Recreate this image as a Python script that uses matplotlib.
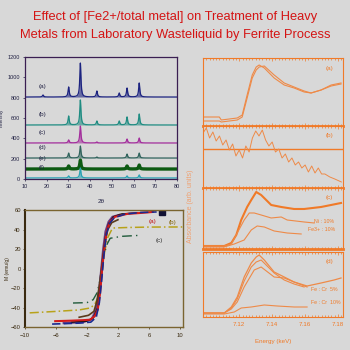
"""
Graphical abstract: XRD patterns, magnetization loops and Fe K-edge XANES
for ferrite-process sludge. Rebuilt from a 350x350 picture.
"""

import numpy as np
import matplotlib
matplotlib.use("Agg")
import matplotlib.pyplot as plt
from matplotlib.ticker import MultipleLocator

BG = "#d8d8d8"
ORANGE = "#f07a28"
LINE_OR = "#ee8a48"

# ── XRD (left top) ──────────────────────────────────────────────
xrd_labels = ["(a)", "(b)", "(c)", "(d)", "(e)", "(f)"]
xrd_offsets = [806, 531, 354, 206, 98, 10]
xrd_peaks = [18.3, 30.1, 35.5, 43.1, 53.4, 57.0, 62.6]
xrd_heights = [
    [20, 98, 334, 59, 39, 88, 138],
    [0, 88, 246, 39, 39, 79, 108],
    [0, 30, 167, 10, 0, 39, 49],
    [0, 49, 118, 10, 0, 39, 49],
    [0, 30, 88, 0, 0, 30, 39],
    [0, 20, 98, 0, 0, 20, 30],
]
xrd_colors = ["#1c2380", "#1f8c82", "#a32e9c", "#2f625c", "#0d5a12", "#2aa2b4"]
xrd_xticks = [10, 20, 30, 40, 50, 60, 70, 80]
xrd_yticks = [0, 200, 400, 600, 800, 1000, 1200]

# ── Magnetization loops (left bottom) ───────────────────────────
loop_red_h = [-6.1, -4, -2.5, -1.6, -1.0, -0.6, -0.3, 0.0, 0.3, 0.6, 1.0, 1.6, 3.2, 5.0, 6.5]
loop_red_m = [-54, -53.5, -53, -52.5, -49, -42, -25, 3, 24, 40, 48, 53, 56, 57, 58]
loop_navy_h = [-6.5, -3, -1.5, -0.8, -0.4, -0.1, 0.2, 0.5, 0.9, 1.5, 3, 5, 7]
loop_navy_m = [-57, -56, -55, -50, -35, -12, 15, 35, 46, 52, 56, 57.5, 58]
loop_black_h = [-4, -2, -1.2, -0.6, -0.2, 0.1, 0.4, 0.8, 1.4, 2.5, 4.5]
loop_black_m = [-55, -54, -51, -40, -15, 12, 33, 46, 53, 56, 57]
loop_purple_h = [-5, -2.5, -1.4, -0.9, -0.5, -0.2, 0.1, 0.4, 0.8, 1.3, 2.2]
loop_purple_m = [-56, -55, -52, -44, -28, -5, 20, 38, 48, 53, 55]
loop_brown_h = [-3, -1.8, -1.1, -0.7, -0.3, 0, 0.3, 0.7, 1.2, 2]
loop_brown_m = [-50, -48, -44, -33, -12, 8, 27, 40, 47, 50]
loop_yellow_h = [-9.4, -6, -3, -1.6, -1.0, -0.6, -0.3, 0, 0.3, 0.7, 1.3, 3, 6, 10.3]
loop_yellow_m = [-45.5, -44, -42.5, -40.5, -37, -30, -18, 0, 18, 32, 41.5, 42, 42.5, 42.6]
loop_green_h = [-3.8, -2.0, -1.2, -0.7, -0.4, -0.1, 0.2, 0.6, 1.0, 2.5, 4.8]
loop_green_m = [-35.4, -35, -32, -25, -15, 0, 14, 25, 31, 33, 34]
loop_xticks = [-10, -6, -2, 2, 6, 10]
loop_yticks = [-60, -40, -20, 0, 20, 40, 60]

# ── XANES (right) ───────────────────────────────────────────────
xa_e1 = [7.0982, 7.1079, 7.1091, 7.1188, 7.1218, 7.1248, 7.1279, 7.1303, 7.1321,
         7.1352, 7.1412, 7.1473, 7.1533, 7.1594, 7.1636, 7.1697, 7.1758, 7.1818]
xa_a1 = [9, 9, 6, 8, 11, 31, 51, 59, 61, 58, 48, 41, 38, 34, 33, 36, 41, 43]
xa_a2 = [5, 5, 4, 6, 9, 28, 48, 56, 59, 60, 51, 43, 39, 35, 33, 36, 40, 42]

xa_e2 = [7.098, 7.100, 7.102, 7.104, 7.106, 7.108, 7.110, 7.112, 7.114, 7.116,
         7.118, 7.120, 7.122, 7.124, 7.126, 7.128, 7.130, 7.132, 7.134, 7.136,
         7.138, 7.140, 7.142, 7.144, 7.146, 7.148, 7.150, 7.152, 7.154, 7.156,
         7.158, 7.160, 7.162, 7.164, 7.166, 7.168, 7.170, 7.172, 7.175, 7.178, 7.182]
xa_b = [55, 60, 50, 56, 47, 52, 43, 48, 38, 44, 32, 38, 30, 42, 36, 50, 57, 52,
        58, 48, 42, 46, 36, 39, 30, 34, 26, 30, 23, 26, 20, 23, 16, 22, 15, 20,
        14, 14, 11, 9, 6]
xa_b_level = 39

xa_c1_e = [7.0982, 7.1109, 7.1152, 7.1182, 7.1212, 7.1248, 7.1273, 7.1303, 7.1333,
           7.1394, 7.1455, 7.1533, 7.1594, 7.1697, 7.1818]
xa_c1 = [3, 3, 6, 14, 29, 42, 49, 57, 54, 44, 42, 40, 40, 42, 46]
xa_c2_e = [7.0982, 7.1109, 7.1152, 7.1188, 7.1230, 7.1261, 7.1291, 7.1333, 7.1394,
           7.1455, 7.1491, 7.1594, 7.1655]
xa_c2 = [3, 3, 5, 16, 29, 36, 36, 34, 31, 32, 29, 27, 26]
xa_c3_e = [7.0982, 7.1109, 7.1170, 7.1230, 7.1273, 7.1309, 7.1352, 7.1412, 7.1491, 7.1576]
xa_c3 = [2, 2, 5, 9, 19, 23, 22, 18, 16, 15]

xa_d1_e = [7.0982, 7.1109, 7.1152, 7.1188, 7.1230, 7.1273, 7.1303, 7.1321, 7.1352,
           7.1412, 7.1473, 7.1533, 7.1612, 7.1697, 7.1776, 7.1818]
xa_d1 = [4, 4, 10, 20, 40, 54, 60, 62, 57, 45, 40, 35, 31, 34, 37, 39]
xa_d2_e = [7.0982, 7.1109, 7.1152, 7.1188, 7.1230, 7.1273, 7.1303, 7.1333, 7.1412,
           7.1473, 7.1533, 7.1594]
xa_d2 = [4, 4, 9, 18, 36, 50, 55, 57, 44, 37, 33, 30]
xa_d3_e = [7.0982, 7.1109, 7.1152, 7.1188, 7.1230, 7.1291, 7.1333, 7.1412, 7.1473,
           7.1533, 7.1612]
xa_d3 = [4, 4, 8, 15, 30, 47, 50, 40, 39, 35, 30]
xa_d4_e = [7.0982, 7.1109, 7.1170, 7.1212, 7.1273, 7.1352, 7.1430, 7.1533, 7.1612]
xa_d4 = [3, 3, 5, 9, 10, 12, 11, 10, 10]

xa_xticks = [7.12, 7.14, 7.16, 7.18]
xa_labels = ["(a)", "(b)", "(c)", "(d)"]

fig = plt.figure(figsize=(3.5, 3.5), dpi=100, facecolor=BG)
plt.rcParams["font.family"] = ["Liberation Sans", "DejaVu Sans"]

fig.text(0.5, 0.951, "Effect of [Fe2+/total metal] on Treatment of Heavy",
         ha="center", va="center", color="#d41414", fontsize=9.3)
fig.text(0.5, 0.900, "Metals from Laboratory Wasteliquid by Ferrite Process",
         ha="center", va="center", color="#d41414", fontsize=9.3)

# XRD panel
ax = fig.add_axes([0.0714, 0.4886, 0.4343, 0.3486], facecolor=BG)
tt = np.linspace(10, 80, 1401)
for lab, off, hts, col in zip(xrd_labels, xrd_offsets, xrd_heights, xrd_colors):
    y = np.full_like(tt, float(off))
    for p, h in zip(xrd_peaks, hts):
        y += h / (1 + ((tt - p) / 0.32) ** 2)
    lw = 2.4 if lab == "(e)" else 0.9
    ax.plot(tt, y, color=col, lw=lw)
    ax.fill_between(tt, off, y, color=col, alpha=0.6, lw=0)
    ax.text(16.5, off + 75, lab, fontsize=4.5, color="#222244", ha="left", va="bottom")
ax.set_xlim(10, 80)
ax.set_ylim(0, 1200)
ax.set_xticks(xrd_xticks)
ax.set_yticks(xrd_yticks)
ax.tick_params(labelsize=4, colors="#222244", length=1.5, width=0.5, pad=2)
for s in ax.spines.values():
    s.set_color("#3a1f52")
    s.set_linewidth(0.9)
ax.set_xlabel("2θ", fontsize=4.5, color="#222244", labelpad=7)
ax.set_ylabel("Intensity", fontsize=3.5, color="#222244", labelpad=3)

# Magnetization loops
bx = fig.add_axes([0.0714, 0.0657, 0.4514, 0.3343], facecolor=BG)
bx.plot(loop_yellow_h, loop_yellow_m, color="#b8a21a", lw=1.1, ls=(0, (6, 2, 1, 2)))
bx.plot(loop_green_h, loop_green_m, color="#1f5a3a", lw=1.0, ls=(0, (7, 3, 1, 3)))
bx.plot(loop_purple_h, loop_purple_m, color="#6a3d86", lw=1.6)
bx.plot(loop_brown_h, loop_brown_m, color="#5a3a1a", lw=1.2)
bx.plot(loop_black_h, loop_black_m, color="#111111", lw=1.0)
bx.plot(loop_red_h, loop_red_m, color="#d41a1a", lw=1.5)
bx.plot(loop_navy_h, loop_navy_m, color="#1a2a90", lw=1.2, ls=(0, (5, 2)))
bx.plot([7.7], [58], marker="s", ms=4, color="#111133")
bx.text(6.4, 47.7, "(a)", fontsize=4.5, color="#c01010", ha="center", va="center")
bx.text(9.0, 47, "(b)", fontsize=4.5, color="#806000", ha="center", va="center")
bx.text(7.4, 29, "(c)", fontsize=4.5, color="#333333", ha="center", va="center")
bx.set_xlim(-10, 10.4)
bx.set_ylim(-60, 60)
bx.set_xticks(loop_xticks)
bx.set_yticks(loop_yticks)
bx.tick_params(labelsize=4.2, colors="#3a2a10", length=1.5, width=0.5, pad=1.5)
bx.tick_params(axis="x", pad=3)
for s in bx.spines.values():
    s.set_color("#7a6430")
    s.set_linewidth(1.0)
bx.spines["left"].set_color("#3a2a10")
bx.spines["left"].set_linewidth(1.5)
bx.set_ylabel("M (emu/g)", fontsize=3.6, color="#3a2a10", labelpad=1)

# XANES panels
rects = [
    [0.58, 0.6400, 0.40, 0.1943],
    [0.58, 0.4629, 0.40, 0.1771],
    [0.58, 0.2886, 0.40, 0.1743],
    [0.58, 0.0943, 0.40, 0.1857],
]
ylims = [68, 62, 61, 65]
axes = []
for r, top, lab in zip(rects, ylims, xa_labels):
    a = fig.add_axes(r, facecolor=BG)
    a.set_xlim(7.098, 7.183)
    a.set_ylim(0, top)
    a.set_yticks([])
    a.set_xticks(xa_xticks)
    a.xaxis.set_minor_locator(MultipleLocator(0.002))
    a.tick_params(axis="x", which="both", direction="in", top=True,
                  colors=ORANGE, labelsize=4.5, width=0.5)
    a.tick_params(axis="x", which="major", length=2.5)
    a.tick_params(axis="x", which="minor", length=1.5)
    a.tick_params(axis="x", labelbottom=False)
    for s in a.spines.values():
        s.set_color(ORANGE)
        s.set_linewidth(0.8)
    a.text(7.1745, top * 0.85, lab, fontsize=4.5, color=ORANGE, ha="center", va="center")
    axes.append(a)

axes[0].spines["bottom"].set_linewidth(2.0)
axes[1].spines["bottom"].set_linewidth(2.0)
axes[2].spines["bottom"].set_linewidth(2.0)
axes[3].tick_params(axis="x", labelbottom=True)
axes[3].set_xlabel("Energy (keV)", fontsize=4.5, color=ORANGE, labelpad=9)

axes[0].plot(xa_e1, xa_a1, color=LINE_OR, lw=0.8)
axes[0].plot(xa_e1, xa_a2, color=LINE_OR, lw=0.8)

axes[1].axhline(xa_b_level, color=ORANGE, lw=1.0)
axes[1].plot(xa_e2, xa_b, color=LINE_OR, lw=0.7)

axes[2].plot(xa_c1_e, xa_c1, color=ORANGE, lw=1.5)
axes[2].plot(xa_c2_e, xa_c2, color=LINE_OR, lw=0.8)
axes[2].plot(xa_c3_e, xa_c3, color=LINE_OR, lw=0.8)
axes[2].text(7.1715, 27, "Ni : 10%", fontsize=3.8, color=ORANGE, ha="center", va="center")
axes[2].text(7.1700, 19, "Fe3+ : 10%", fontsize=3.8, color=ORANGE, ha="center", va="center")

axes[3].plot(xa_d1_e, xa_d1, color=LINE_OR, lw=0.9)
axes[3].plot(xa_d2_e, xa_d2, color=LINE_OR, lw=0.8)
axes[3].plot(xa_d3_e, xa_d3, color=LINE_OR, lw=0.8)
axes[3].plot(xa_d4_e, xa_d4, color=LINE_OR, lw=0.8)
axes[3].text(7.1715, 27, "Fe : Cr  5%", fontsize=3.8, color=ORANGE, ha="center", va="center")
axes[3].text(7.1725, 14, "Fe : Cr  10%", fontsize=3.8, color=ORANGE, ha="center", va="center")

fig.text(0.543, 0.41, "Absorbance (arb. units)", rotation=90, fontsize=5,
         color="#f0a070", ha="center", va="center")

fig.savefig("out.png", dpi=100, facecolor=BG)
